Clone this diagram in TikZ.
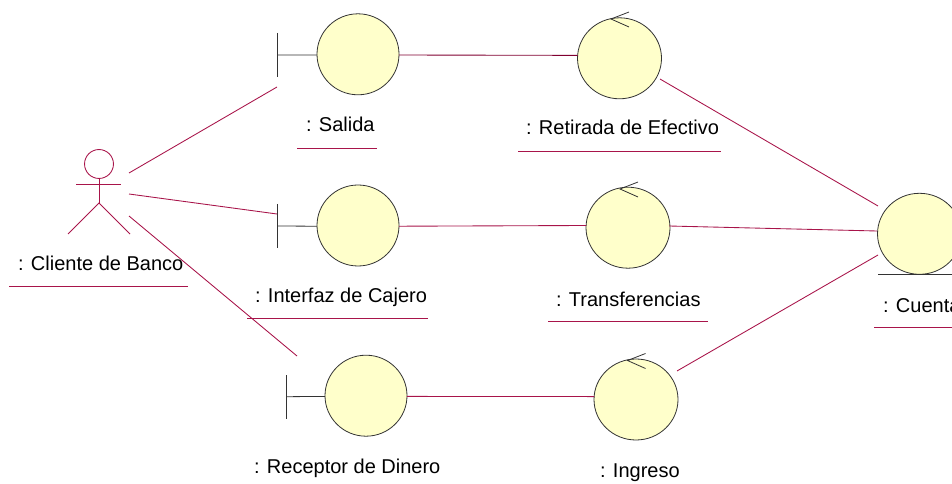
\documentclass[tikz,border=0pt]{standalone}
\usepackage{fontspec}
\usetikzlibrary{shapes.geometric}
\setmainfont{Liberation Sans}
\definecolor{crim}{HTML}{A8144A}
\definecolor{dcrim}{HTML}{800030}
\definecolor{fillc}{HTML}{FFFFCB}
\definecolor{edge}{HTML}{333333}
\tikzset{
  objc/.style={ellipse,draw=edge,fill=fillc,line width=0.6pt,minimum width=#1,minimum height=60.75pt,inner sep=0pt,outer sep=0pt},
  objc/.default=61.5pt,
  conn/.style={draw=crim,line width=0.65pt},
  stem/.style={draw=edge,line width=0.6pt},
  lab/.style={anchor=base west,inner sep=0pt,outer sep=0pt,font=\fontsize{15pt}{18pt}\selectfont,text=black},
}
\begin{document}
\begin{tikzpicture}[x=0.75pt,y=-0.75pt]
\useasboundingbox (0,0) rectangle (952,484);
\clip (0,0) rectangle (952,484);
% objects
\node[objc] (sal) at (358,54.3) {};
\node[objc] (int) at (358,225.5) {};
\node[objc] (rec) at (366,395.7) {};
\node[objc=63pt] (ret) at (619.5,58.3) {};
\node[objc=63pt] (tra) at (628,227.7) {};
\node[objc=63pt] (ing) at (636,399.5) {};
\node[objc=63pt] (cue) at (919.5,233.8) {};
% boundary bars
\coordinate (salT) at (277,33); \coordinate (salB) at (277,77); \coordinate (salM) at (277,55);
\coordinate (intT) at (277,204); \coordinate (intB) at (277,248); \coordinate (intM) at (277,226);
\coordinate (recT) at (286,375); \coordinate (recB) at (286,419); \coordinate (recM) at (286,396.7);
\draw[stem] (salT) -- (salB); \draw[stem] (salM) -- (sal.181);
\draw[stem] (intT) -- (intB); \draw[stem] (intM) -- (int.181);
\draw[stem] (recT) -- (recB); \draw[stem] (recM) -- (rec.181);
% control arrows
\foreach \n/\x/\y in {ret/611/19,tra/620/189,ing/627.5/360.5}{
  \coordinate (\n tip) at (\x,\y);
  \draw[stem] (\x+18,\y-7) -- (\n tip) -- (\x+18,\y+8);
}
% entity base
\coordinate (cueL) at (878,274); \coordinate (cueR) at (952,274);
\draw[stem] (cueL) -- (cueR);
% actor
\node[circle,draw=crim,line width=0.65pt,minimum size=21.7pt,inner sep=0pt,outer sep=0pt] (act) at (99,164) {};
\coordinate (hip) at (99,203); \coordinate (armL) at (76,184.5); \coordinate (armR) at (121,184.5);
\coordinate (legL) at (68,234); \coordinate (legR) at (130,234);
\draw[conn] (act.south) -- (hip);
\draw[conn] (armL) -- (armR);
\draw[conn] (legL) -- (hip) -- (legR);
% connectors
\coordinate (a1) at (129,173); \coordinate (s1) at (277,87);
\coordinate (a2) at (129,194); \coordinate (i1) at (277,214);
\coordinate (a3) at (129,216); \coordinate (r1) at (297,356);
\coordinate (re1) at (660,79); \coordinate (c1) at (878,206);
\coordinate (t1) at (669,226); \coordinate (c2) at (877,231);
\coordinate (g1) at (677,371); \coordinate (c3) at (878,255);
\draw[conn] (a1) -- (s1);
\draw[conn] (a2) -- (i1);
\draw[conn] (a3) -- (r1);
\draw[conn,draw=dcrim] (sal.359) -- (ret.176);
\draw[conn] (int.359) -- (tra.177);
\draw[conn] (rec.359) -- (ing.176);
\draw[conn] (re1) -- (c1);
\draw[conn] (t1) -- (c2);
\draw[conn] (g1) -- (c3);
% labels
\node[lab] (lsal) at (306,132) {: Salida};
\node[lab] (lret) at (526,135) {: Retirada de Efectivo};
\node[lab] (lcli) at (18,271) {: Cliente de Banco};
\node[lab] (lint) at (255,303) {: Interfaz de Cajero};
\node[lab] (ltra) at (556,306) {: Transferencias};
\node[lab] (lcue) at (883,312.5) {: Cuenta};
\node[lab] (lrec) at (254,473) {: Receptor de Dinero};
\node[lab] (ling) at (600,477) {: Ingreso};
% underlines
\coordinate (u1a) at (297,148); \coordinate (u1b) at (377,148);
\coordinate (u2a) at (518,151); \coordinate (u2b) at (721,151);
\coordinate (u3a) at (9,286); \coordinate (u3b) at (188,286);
\coordinate (u4a) at (247,318); \coordinate (u4b) at (428,318);
\coordinate (u5a) at (548,321); \coordinate (u5b) at (708,321);
\coordinate (u6a) at (874,327); \coordinate (u6b) at (952,327);
\draw[conn] (u1a) -- (u1b);
\draw[conn] (u2a) -- (u2b);
\draw[conn] (u3a) -- (u3b);
\draw[conn] (u4a) -- (u4b);
\draw[conn] (u5a) -- (u5b);
\draw[conn] (u6a) -- (u6b);
\end{tikzpicture}
\end{document}
